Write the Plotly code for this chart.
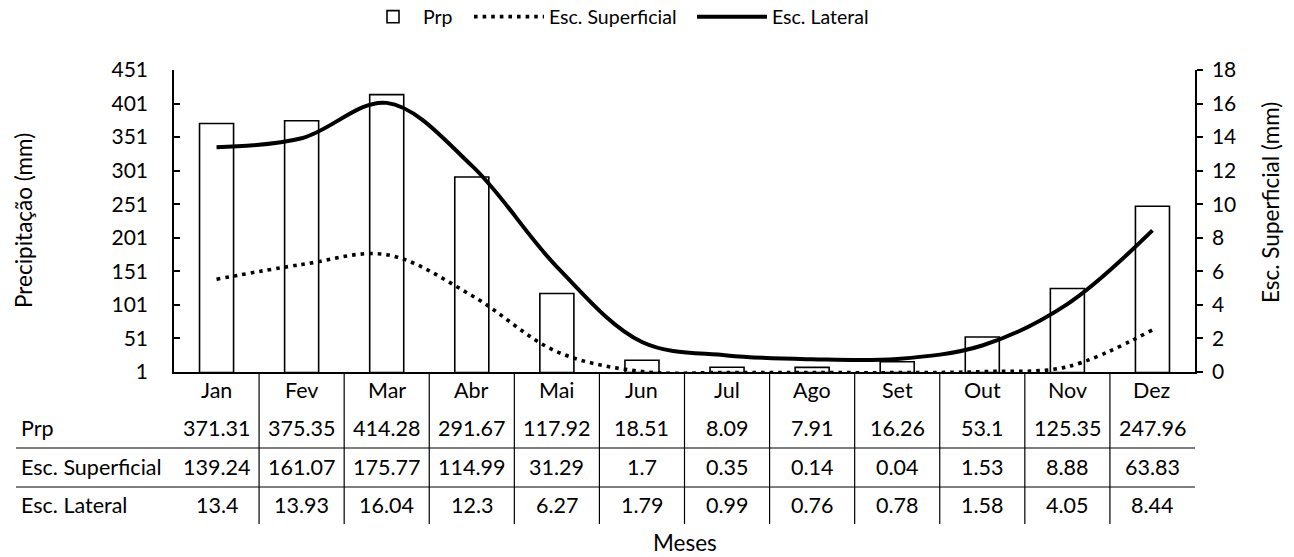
import plotly.graph_objects as go

months = ["Jan", "Fev", "Mar", "Abr", "Mai", "Jun", "Jul", "Ago", "Set", "Out", "Nov", "Dez"]
prp = [371.31, 375.35, 414.28, 291.67, 117.92, 18.51, 8.09, 7.91, 16.26, 53.1, 125.35, 247.96]
esc_sup = [139.24, 161.07, 175.77, 114.99, 31.29, 1.7, 0.35, 0.14, 0.04, 1.53, 8.88, 63.83]
esc_lat = [13.4, 13.93, 16.04, 12.3, 6.27, 1.79, 0.99, 0.76, 0.78, 1.58, 4.05, 8.44]
left_ticks = list(range(1, 452, 50))
right_ticks = list(range(0, 19, 2))
row_labels = ["Prp", "Esc. Superficial", "Esc. Lateral"]

W, H = 1294, 557
L, R, T, B = 174, 1195, 70, 372
FONT = "Lato"
TS = 21.5   # table font size
AS = 22.5   # axis title font size


def py(ypx):
    return (B - ypx) / (B - T)


def px(xpx):
    return (xpx - L) / (R - L)


fig = go.Figure()
fig.add_trace(go.Bar(
    x=months, y=prp, name="Prp", width=0.4,
    marker=dict(color="white", line=dict(color="black", width=1.6)),
    yaxis="y", legend="legend",
))
fig.add_trace(go.Scatter(
    x=months, y=esc_sup, name="Esc. Superficial", mode="lines",
    line=dict(color="black", width=3.6, dash="3.6px,5px", shape="spline", smoothing=1),
    yaxis="y", legend="legend2",
))
fig.add_trace(go.Scatter(
    x=months, y=esc_lat, name="Esc. Lateral", mode="lines",
    line=dict(color="black", width=4, shape="spline", smoothing=1),
    yaxis="y2", legend="legend3",
))

annotations = []
shapes = []
for m in months:
    annotations.append(dict(x=m, xref="x", y=py(390), yref="paper", text=m,
                            showarrow=False, xanchor="center", yanchor="middle",
                            font=dict(size=TS)))
rows = [prp, esc_sup, esc_lat]
row_y = [428, 467, 505]
for lab, vals, yy in zip(row_labels, rows, row_y):
    annotations.append(dict(x=px(19), xref="paper", y=py(yy), yref="paper", text=lab,
                            showarrow=False, xanchor="left", yanchor="middle",
                            font=dict(size=TS)))
    for m, v in zip(months, vals):
        annotations.append(dict(x=m, xref="x", y=py(yy), yref="paper", text=str(v),
                                showarrow=False, xanchor="center", yanchor="middle",
                                font=dict(size=TS)))
for yy in [448, 487]:
    shapes.append(dict(type="line", xref="paper", yref="paper", x0=px(16), x1=px(1195),
                       y0=py(yy), y1=py(yy), line=dict(color="black", width=1.2)))
for i in range(len(months) - 1):
    shapes.append(dict(type="line", xref="x", yref="paper", x0=i + 0.5, x1=i + 0.5,
                       y0=py(B), y1=py(524), line=dict(color="black", width=1.2)))

annotations.append(dict(x=px((L + R) / 2), xref="paper", y=py(542), yref="paper", text="Meses",
                        showarrow=False, xanchor="center", yanchor="middle", font=dict(size=AS),
                        borderpad=0))
annotations.append(dict(x=px(23), xref="paper", y=py(221), yref="paper", text="Precipitação (mm)",
                        showarrow=False, xanchor="center", yanchor="middle", textangle=-90,
                        font=dict(size=AS)))
annotations.append(dict(x=px(1270), xref="paper", y=py(203), yref="paper", text="Esc. Superficial (mm)",
                        showarrow=False, xanchor="center", yanchor="middle", textangle=-90,
                        font=dict(size=AS)))


def leg(xpx, iw):
    return dict(orientation="h", xref="container", yref="container",
                x=xpx / W, xanchor="left", y=1 - 17 / H, yanchor="middle",
                font=dict(size=19.5), bgcolor="rgba(0,0,0,0)", itemwidth=iw)


fig.update_layout(
    width=W, height=H,
    margin=dict(l=L, r=W - R, t=T, b=H - B, pad=0, autoexpand=False),
    paper_bgcolor="white", plot_bgcolor="white",
    font=dict(family=FONT, color="black", size=TS),
    showlegend=True,
    legend=leg(363, 50),
    legend2=leg(469, 70),
    legend3=leg(692, 70),
    xaxis=dict(type="category", range=[-0.5, 11.5], showline=True, linecolor="black",
               linewidth=1.5, showticklabels=False, ticks="", showgrid=False, zeroline=False),
    yaxis=dict(range=[1, 451], tickvals=left_ticks, ticks="inside", ticklen=6, tickwidth=1.5,
               tickcolor="black", showline=True, linecolor="black", linewidth=1.5,
               showgrid=False, zeroline=False, ticklabelstandoff=20, tickfont=dict(size=21)),
    yaxis2=dict(range=[0, 18], tickvals=right_ticks, ticks="outside", ticklen=6, tickwidth=1.5,
                tickcolor="black", showline=True, linecolor="black", linewidth=1.5,
                overlaying="y", side="right", showgrid=False, zeroline=False,
                ticklabelstandoff=5, tickfont=dict(size=21)),
    annotations=annotations,
    shapes=shapes,
)

fig.write_html("out.html", config={"displayModeBar": False},
               post_script="document.body.style.margin='0';document.body.style.overflow='hidden';")
